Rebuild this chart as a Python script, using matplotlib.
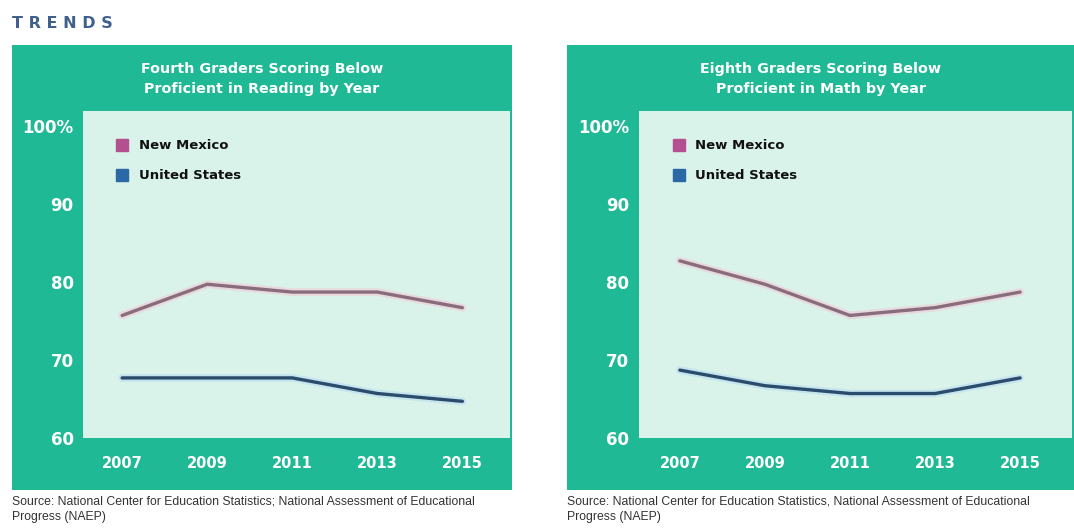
import matplotlib
matplotlib.use("Agg")
import matplotlib.pyplot as plt
import matplotlib.transforms as mtransforms
from matplotlib.patches import Rectangle

# NAEP share of students scoring below proficient (%)
years = ["2007", "2009", "2011", "2013", "2015"]
reading_nm = [76, 80, 79, 79, 77]
reading_us = [68, 68, 68, 66, 65]
math_nm = [83, 80, 76, 77, 79]
math_us = [69, 67, 66, 66, 68]
ytick_vals = [60, 70, 80, 90, 100]
ytick_text = ["60", "70", "80", "90", "100%"]
series_names = ["New Mexico", "United States"]

TEAL = "#20b996"
MINT = "#d9f2ea"
NM_LINE = "#8a6d7c"
US_LINE = "#2b4c6d"
NM_KEY = "#b4508f"
US_KEY = "#2a68a6"
FONT = "DejaVu Sans"

W, H = 1074, 531
fig = plt.figure(figsize=(W / 100, H / 100), dpi=100)
fig.patch.set_facecolor("white")


def fx(x):
    return x / W


def fy(y):
    return 1 - y / H


fig.text(fx(12), fy(23), "T R E N D S", fontsize=11.5, fontweight="bold",
         color="#3f5f8f", va="center", ha="left", family=FONT)


def panel(x0, x1, plot_left, title, nm, us, xlim, source):
    # teal frame behind the plot
    fig.add_artist(Rectangle((fx(x0), fy(490)), fx(x1 - x0), (490 - 45) / H,
                             transform=fig.transFigure, facecolor=TEAL,
                             edgecolor="none", zorder=-1))
    fig.text(fx((x0 + x1) / 2), fy(79), title, ha="center", va="center",
             color="white", fontsize=10.3, fontweight="bold",
             family=FONT, linespacing=1.55)

    ax = fig.add_axes([fx(plot_left), fy(438), fx(min(x1, W) - plot_left - 2),
                       (438 - 111) / H])
    ax.set_facecolor(MINT)
    ax.set_xlim(*xlim)
    ax.set_ylim(60.3, 102.2)
    for s in ax.spines.values():
        s.set_visible(False)
    ax.set_xticks([])
    ax.set_yticks([])

    xs = range(len(years))
    ax.plot(xs, nm, color="#f2c9d6", lw=5.5, alpha=0.6, solid_capstyle="round")
    ax.plot(xs, nm, color=NM_LINE, lw=2.4, solid_capstyle="round")
    ax.plot(xs, us, color="#b9dcf0", lw=5.5, alpha=0.6, solid_capstyle="round")
    ax.plot(xs, us, color=US_LINE, lw=2.4, solid_capstyle="round")

    ytr = mtransforms.blended_transform_factory(ax.transAxes, ax.transData)
    for v, t in zip(ytick_vals, ytick_text):
        ax.text(-0.022, v, t, transform=ytr, ha="right", va="center",
                color="white", fontsize=12, fontweight="bold",
                family=FONT, clip_on=False)

    xtr = mtransforms.blended_transform_factory(ax.transData, ax.transAxes)
    for i, yr in enumerate(years):
        ax.text(i, -0.077, yr, transform=xtr, ha="center", va="center",
                color="white", fontsize=10.5, fontweight="bold",
                family=FONT, clip_on=False)

    # legend keys
    for name, col, yk in zip(series_names, [NM_KEY, US_KEY], [0.896, 0.804]):
        ax.plot([0.092], [yk], marker="s", markersize=8.5, color=col,
                transform=ax.transAxes, clip_on=False)
        ax.text(0.13, yk, name, transform=ax.transAxes, ha="left",
                va="center", fontsize=9.5, fontweight="bold",
                color="#111111", family=FONT)

    fig.text(fx(x0), fy(496), source, ha="left", va="top", fontsize=8.8,
             color="#333333", family="Liberation Sans", linespacing=1.3)
    return ax


panel(12, 512, 83,
      "Fourth Graders Scoring Below\nProficient in Reading by Year",
      reading_nm, reading_us, (-0.46, 4.56),
      "Source: National Center for Education Statistics; National Assessment of Educational\nProgress (NAEP)")
panel(567, 1074, 639,
      "Eighth Graders Scoring Below\nProficient in Math by Year",
      math_nm, math_us, (-0.48, 4.61),
      "Source: National Center for Education Statistics, National Assessment of Educational\nProgress (NAEP)")

fig.savefig("out.png", dpi=100, facecolor="white")
